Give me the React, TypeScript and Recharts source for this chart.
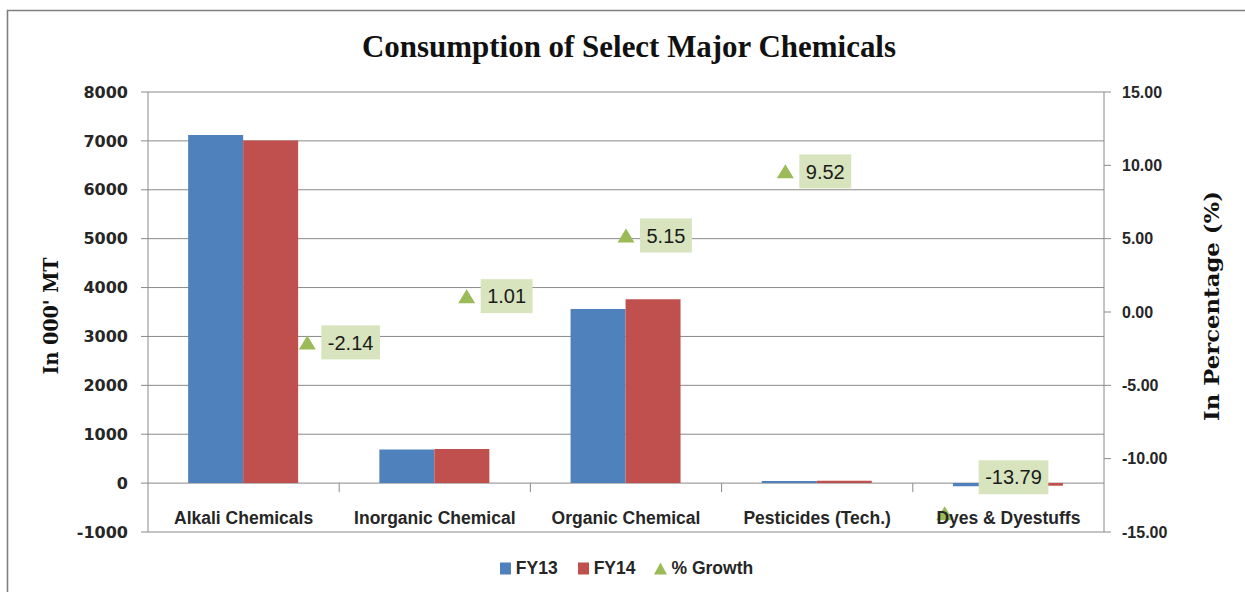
import React from "react";
import {
  ComposedChart,
  Bar,
  Line,
  XAxis,
  YAxis,
  CartesianGrid,
  Legend,
  ReferenceLine,
} from "recharts";

// ---- data ----
const categories = [
  "Alkali Chemicals",
  "Inorganic Chemical",
  "Organic Chemical",
  "Pesticides (Tech.)",
  "Dyes & Dyestuffs",
];
const fy13 = [7120, 690, 3560, 42, -62];
const fy14 = [7010, 697, 3760, 46, -54];
const growth = [-2.14, 1.01, 5.15, 9.52, -13.79];
const leftTicks = [-1000, 0, 1000, 2000, 3000, 4000, 5000, 6000, 7000, 8000];
const rightTicks = [-15, -10, -5, 0, 5, 10, 15];
const boundaries = [1, 2, 3, 4];
const seriesOrder = ["FY13", "FY14", "% Growth"];

const data = categories.map((name, i) => ({
  name,
  fy13: fy13[i],
  fy14: fy14[i],
  growth: growth[i],
  slot: i + 1,
}));

// ---- styles ----
const BLUE = "#4f81bd";
const RED = "#c0504d";
const GREEN = "#9bbb59";
const LABEL_BG = "#d7e4bd";
const GRID = "#8a8a8a";
const TEXT = "#262626";

const W = 1245;
const H = 592;

const charW: Record<string, number> = { "-": 6.7, ".": 5.6 };
const textWidth = (s: string) =>
  s.split("").reduce((a, c) => a + (charW[c] ?? 11.1), 0);

const TriangleDot = (props: any) => {
  const { cx, cy } = props;
  if (cx == null || cy == null) return <g />;
  return (
    <polygon
      points={`${cx},${cy - 8} ${cx - 8.5},${cy + 6} ${cx + 8.5},${cy + 6}`}
      fill={GREEN}
    />
  );
};

const GrowthLabel = (props: any) => {
  const { x, y, value, index } = props;
  if (x == null || y == null) return <g />;
  const text = Number(value).toFixed(2);
  const w = textWidth(text) + 13;
  // Excel moved the last label up/right so it does not collide with the axis
  const lifted = index === categories.length - 1;
  const bx = x + (lifted ? 34 : 14);
  const cy = y + (lifted ? -37 : -1);
  return (
    <g>
      <rect x={bx} y={cy - 17} width={w} height={34} fill={LABEL_BG} />
      <text
        x={bx + w / 2}
        y={cy}
        dy="0.36em"
        textAnchor="middle"
        fontFamily="Liberation Sans"
        fontSize={20}
        fill="#1a1a1a"
      >
        {text}
      </text>
    </g>
  );
};

const CategoryTick = (props: any) => {
  const { x, y, payload } = props;
  return (
    <text
      x={x}
      y={y}
      dy={-38}
      textAnchor="middle"
      fontFamily="Liberation Sans"
      fontWeight="bold"
      fontSize={17.5}
      fill={TEXT}
    >
      {payload.value}
    </text>
  );
};

const renderLegend = (props: any) => {
  const payload = [...(props.payload || [])].sort(
    (a: any, b: any) =>
      seriesOrder.indexOf(a.value) - seriesOrder.indexOf(b.value)
  );
  return (
    <div
      style={{
        display: "flex",
        justifyContent: "center",
        alignItems: "center",
        height: 20,
        fontFamily: "Liberation Sans",
        fontWeight: "bold",
        fontSize: 17.5,
        color: TEXT,
      }}
    >
      {payload.map((entry: any) => (
        <span
          key={entry.value}
          style={{ display: "flex", alignItems: "center", margin: "0 9.5px" }}
        >
          <svg width={13} height={13} style={{ display: "block" }}>
            {entry.type === "triangle" ? (
              <polygon points="6.5,0.5 0,12.5 13,12.5" fill={entry.color} />
            ) : (
              <rect x={1} y={0.5} width={11} height={12} fill={entry.color} />
            )}
          </svg>
          <span style={{ marginLeft: 4, lineHeight: "20px" }}>{entry.value}</span>
        </span>
      ))}
    </div>
  );
};

export default function App() {
  return (
    <div
      style={{
        position: "absolute",
        left: 0,
        top: 0,
        width: W,
        height: H,
        overflow: "hidden",
        background: "#fff",
      }}
    >
      <svg
        width={W}
        height={H}
        style={{ position: "absolute", left: 0, top: 0 }}
      >
        <path
          d={`M7.5 ${H} V10.5 H${W}`}
          fill="none"
          stroke="#7f7f7f"
          strokeWidth={1.6}
        />
        <text
          x={629}
          y={57}
          textAnchor="middle"
          fontFamily="Liberation Serif"
          fontWeight="bold"
          fontSize={32}
          textLength={534}
          lengthAdjust="spacingAndGlyphs"
          fill="#111"
        >
          Consumption of Select Major Chemicals
        </text>
        <text
          transform="translate(58,316) rotate(-90)"
          textAnchor="middle"
          fontFamily="DejaVu Serif"
          fontWeight="bold"
          fontSize={20}
          textLength={117}
          lengthAdjust="spacingAndGlyphs"
          fill="#111"
        >
          In 000' MT
        </text>
        <text
          transform="translate(1219,306) rotate(-90)"
          textAnchor="middle"
          fontFamily="DejaVu Serif"
          fontWeight="bold"
          fontSize={20}
          textLength={230}
          lengthAdjust="spacingAndGlyphs"
          fill="#111"
        >
          In Percentage (%)
        </text>
      </svg>
      <div style={{ position: "absolute", left: 0, top: 0 }}>
        <ComposedChart
          width={W}
          height={H}
          data={data}
          margin={{ top: 92, right: 81, bottom: 10, left: 88 }}
          barCategoryGap="21%"
          barGap={0}
        >
          <CartesianGrid
            xAxisId="cat"
            yAxisId="left"
            vertical={false}
            stroke={GRID}
          />
          <XAxis
            xAxisId="cat"
            dataKey="name"
            type="category"
            height={30}
            tickLine={false}
            axisLine={false}
            tickSize={0}
            tickMargin={0}
            interval={0}
            tick={<CategoryTick />}
          />
          <XAxis
            xAxisId="slot"
            dataKey="slot"
            type="number"
            domain={[0, categories.length + 1]}
            allowDataOverflow
            hide
          />
          <XAxis
            xAxisId="bnd"
            dataKey="slot"
            type="number"
            domain={[0, categories.length]}
            allowDataOverflow
            hide
          />
          <YAxis
            yAxisId="left"
            width={60}
            domain={[-1000, 8000]}
            ticks={leftTicks}
            interval={0}
            allowDataOverflow
            axisLine={{ stroke: GRID }}
            tickLine={{ stroke: GRID }}
            tickSize={7}
            tickMargin={13}
            tick={{
              fontFamily: "DejaVu Sans",
              fontWeight: "bold",
              fontSize: 16,
              fill: TEXT,
            }}
          />
          <YAxis
            yAxisId="right"
            orientation="right"
            width={60}
            domain={[-15, 15]}
            ticks={rightTicks}
            interval={0}
            allowDataOverflow
            axisLine={{ stroke: GRID }}
            tickLine={{ stroke: GRID }}
            tickSize={7}
            tickMargin={11}
            tickFormatter={(v: number) => v.toFixed(2)}
            tick={{
              fontFamily: "Liberation Sans",
              fontWeight: "bold",
              fontSize: 16,
              fill: TEXT,
            }}
          />
          {boundaries.map((b) => (
            <ReferenceLine
              key={b}
              xAxisId="bnd"
              yAxisId="left"
              segment={[
                { x: b, y: 0 },
                { x: b, y: -185 },
              ]}
              stroke={GRID}
            />
          ))}
          <Bar
            xAxisId="cat"
            yAxisId="left"
            dataKey="fy13"
            name="FY13"
            fill={BLUE}
            legendType="square"
            isAnimationActive={false}
          />
          <Bar
            xAxisId="cat"
            yAxisId="left"
            dataKey="fy14"
            name="FY14"
            fill={RED}
            legendType="square"
            isAnimationActive={false}
          />
          <Line
            xAxisId="slot"
            yAxisId="right"
            dataKey="growth"
            name="% Growth"
            stroke={GREEN}
            strokeOpacity={0}
            legendType="triangle"
            dot={<TriangleDot />}
            activeDot={false}
            label={<GrowthLabel />}
            isAnimationActive={false}
          />
          <Legend
            verticalAlign="bottom"
            content={renderLegend}
            wrapperStyle={{ bottom: 14, height: 20 }}
          />
        </ComposedChart>
      </div>
    </div>
  );
}
